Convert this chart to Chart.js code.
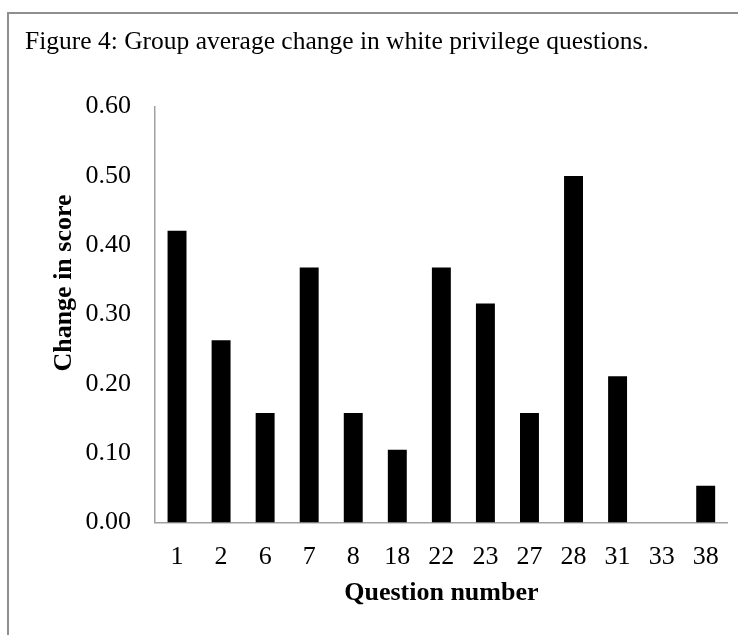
<!DOCTYPE html>
<html>
<head>
<meta charset="utf-8">
<script src="https://cdn.jsdelivr.net/npm/chart.js@4.4.1/dist/chart.umd.min.js"></script>
<style>
  html, body { margin: 0; padding: 0; background: #fff; }
  #wrap { position: relative; width: 738px; height: 635px; overflow: hidden; }
  #frame {
    position: absolute; left: 7px; top: 12px; width: 760px; height: 660px;
    border-top: 2px solid #8f8f8f; border-left: 2px solid #8f8f8f;
  }
  #chart { position: absolute; left: 0; top: 0; }
</style>
</head>
<body>
<div id="wrap">
  <div id="frame"></div>
  <canvas id="chart" width="738" height="635"></canvas>
</div>
<script>
// Group average change per question
const questions = ["1", "2", "6", "7", "8", "18", "22", "23", "27", "28", "31", "33", "38"];
const changeInScore = [0.421, 0.263, 0.158, 0.368, 0.158, 0.105, 0.368, 0.316, 0.158, 0.5, 0.211, 0, 0.053];
const yTicks = [0, 0.1, 0.2, 0.3, 0.4, 0.5, 0.6];

const serif = "'Liberation Serif', 'Times New Roman', serif";

// y axis title sits a bit above the middle of the axis in the original, so draw it by hand
const yTitlePlugin = {
  id: "yTitle",
  afterDraw: function (chart) {
    const c = chart.ctx;
    c.save();
    c.translate(64, 283);
    c.rotate(-Math.PI / 2);
    c.textAlign = "center";
    c.textBaseline = "middle";
    c.fillStyle = "#000";
    c.font = "bold 26px " + serif;
    c.fillText("Change in score", 0, 0);
    c.restore();
  },
};

const ctx = document.getElementById("chart").getContext("2d");

new Chart(ctx, {
  type: "bar",
  data: {
    labels: questions,
    datasets: [
      {
        label: "Change in score",
        data: changeInScore,
        backgroundColor: "#000",
        borderWidth: 0,
        barPercentage: 0.43,
        categoryPercentage: 1,
      },
    ],
  },
  plugins: [yTitlePlugin],
  options: {
    responsive: false,
    animation: false,
    layout: {
      padding: { left: 25, right: 8, top: 0, bottom: 26 },
    },
    plugins: {
      legend: { display: false },
      tooltip: { enabled: false },
      title: {
        display: true,
        text: "Figure 4: Group average change in white privilege questions.",
        align: "start",
        color: "#000",
        font: { family: serif, size: 25.5, weight: "normal" },
        padding: { top: 27, bottom: 49 },
      },
    },
    scales: {
      x: {
        grid: { display: false, drawTicks: false },
        border: { display: true, color: "#a0a0a0", width: 1.5 },
        ticks: {
          color: "#000",
          font: { family: serif, size: 26 },
          padding: 19,
          maxRotation: 0,
          autoSkip: false,
        },
        title: {
          display: true,
          text: "Question number",
          color: "#000",
          font: { family: serif, size: 26, weight: "bold" },
          padding: { top: -14, bottom: 0 },
        },
      },
      y: {
        min: 0,
        max: 0.6,
        afterBuildTicks: function (axis) {
          axis.ticks = yTicks.map(function (v) {
            return { value: v };
          });
        },
        afterFit: function (scale) {
          scale.width = 130;
        },
        grid: { display: false, drawTicks: false },
        border: { display: true, color: "#a0a0a0", width: 1.5 },
        ticks: {
          color: "#000",
          font: { family: serif, size: 26 },
          padding: 24,
          callback: function (value) {
            return Number(value).toFixed(2);
          },
        },
      },
    },
  },
});
</script>
</body>
</html>
